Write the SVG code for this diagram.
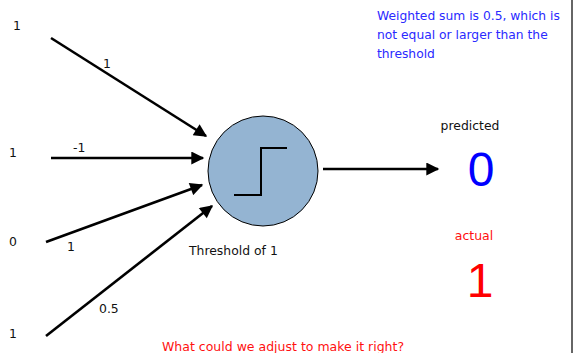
<svg xmlns="http://www.w3.org/2000/svg" width="574" height="353" viewBox="0 0 574 353">
  <style>
    text { font-family: "DejaVu Sans", "Liberation Sans", sans-serif; }
    .lbl { font-size: 12.4px; fill: #111; }
    .edge { stroke: #000; stroke-width: 2.6; fill: none; marker-end: url(#arrow); }
    .note-blue { font-size: 12.3px; fill: #2a2aff; }
    .note-red { font-size: 12.5px; fill: #ff1010; }
    .big { font-family: "Liberation Sans", sans-serif; font-size: 48px; text-anchor: middle; }
  </style>
  <defs>
    <marker id="arrow" viewBox="0 0 10 10" refX="9" refY="5" markerWidth="5.5" markerHeight="5" markerUnits="strokeWidth" orient="auto">
      <path d="M0,0 L10,5 L0,10 z" fill="#000"/>
    </marker>
  </defs>
  <rect width="574" height="353" fill="#fff"/>
  <line x1="572" y1="0" x2="572" y2="353" stroke="#333" stroke-width="1.5"/>

  <g id="connectors">
    <line class="edge" x1="51" y1="38" x2="206" y2="136"/>
    <line class="edge" x1="51" y1="158" x2="203" y2="158"/>
    <line class="edge" x1="46" y1="242" x2="202" y2="185"/>
    <line class="edge" x1="46" y1="336" x2="212" y2="206"/>
    <line class="edge" x1="323" y1="169" x2="438" y2="169"/>
  </g>

  <g id="neuron">
    <circle cx="263" cy="171" r="55" fill="#94b4d2" stroke="#000" stroke-width="1"/>
    <polyline points="234,195 261,195 261,148 287,148" fill="none" stroke="#000" stroke-width="2"/>
    <text class="lbl" x="189" y="255">Threshold of 1</text>
  </g>

  <g id="inputs">
    <text class="lbl" x="13" y="30">1</text>
    <text class="lbl" x="9" y="157">1</text>
    <text class="lbl" x="9" y="246">0</text>
    <text class="lbl" x="9" y="338">1</text>
  </g>

  <g id="weights">
    <text class="lbl" x="103" y="68">1</text>
    <text class="lbl" x="73" y="152">-1</text>
    <text class="lbl" x="67" y="251">1</text>
    <text class="lbl" x="99" y="313">0.5</text>
  </g>

  <g id="output">
    <text class="lbl" x="470" y="130" text-anchor="middle">predicted</text>
    <text class="big" x="481" y="186" fill="#0000ff">0</text>
    <text class="note-red" x="474" y="240" text-anchor="middle">actual</text>
    <text class="big" x="480" y="297" fill="#ff0000">1</text>
  </g>

  <g id="notes">
    <text class="note-blue" x="377" y="20">Weighted sum is 0.5, which is</text>
    <text class="note-blue" x="377" y="39">not equal or larger than the</text>
    <text class="note-blue" x="377" y="58">threshold</text>
    <text class="note-red" x="162" y="351">What could we adjust to make it right?</text>
  </g>
</svg>
